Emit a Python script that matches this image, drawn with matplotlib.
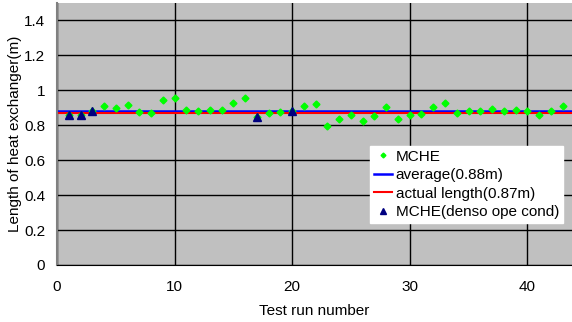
import numpy as np
import matplotlib.pyplot as plt

plt.rcParams['font.family'] = ['Liberation Sans', 'DejaVu Sans']

# MCHE measured lengths per test run
run = np.arange(1, 44)
mche = [0.86, 0.86, 0.88, 0.91, 0.90, 0.915, 0.875, 0.873, 0.945, 0.955,
        0.888, 0.883, 0.89, 0.888, 0.926, 0.955, 0.846, 0.869, 0.877, 0.879,
        0.911, 0.923, 0.793, 0.835, 0.858, 0.827, 0.854, 0.907, 0.835, 0.858,
        0.862, 0.902, 0.928, 0.872, 0.882, 0.879, 0.892, 0.879, 0.886, 0.882,
        0.861, 0.879, 0.91]

# MCHE under denso operating condition
denso_run = [1, 2, 3, 17, 20]
denso_val = [0.86, 0.86, 0.884, 0.846, 0.879]

average = 0.88
actual = 0.87

fig = plt.figure(figsize=(5.72, 3.22), dpi=100)
ax = fig.add_axes([57 / 572, 57 / 322, 515 / 572, 262 / 322])
ax.set_facecolor('#c0c0c0')

ax.plot(run, mche, linestyle='none', marker='D', markersize=3.5,
        color='#00ff00', label='MCHE', zorder=3)
ax.axhline(average, color='#0000ff', lw=1.8, label='average(0.88m)', zorder=2)
ax.axhline(actual, color='#ff0000', lw=1.5, label='actual length(0.87m)', zorder=2)
ax.plot(denso_run, denso_val, linestyle='none', marker='^', markersize=5.5,
        color='#000080', label='MCHE(denso ope cond)', zorder=4)

ax.set_xlim(0, 43.8)
ax.set_ylim(0, 1.5)
ax.set_xticks([0, 10, 20, 30, 40])
ax.set_yticks([0, 0.2, 0.4, 0.6, 0.8, 1, 1.2, 1.4])
ax.set_yticklabels(['0', '0.2', '0.4', '0.6', '0.8', '1', '1.2', '1.4'])
ax.grid(True, color='black', lw=1)
ax.set_axisbelow(True)
ax.tick_params(labelsize=11, length=0)
ax.tick_params(axis='x', pad=11)
ax.tick_params(axis='y', pad=8.5)

for s in ['top', 'right']:
    ax.spines[s].set_visible(False)
ax.spines['left'].set_color('#808080')
ax.spines['left'].set_linewidth(1.5)
ax.spines['bottom'].set_color('black')

ax.set_xlabel('Test run number', fontsize=11, labelpad=7)
ax.set_ylabel('Length of heat exchanger(m)', fontsize=11)
ax.yaxis.set_label_coords(-0.068, 0.5)

leg = ax.legend(loc='lower right', bbox_to_anchor=(0.9825, 0.16), fontsize=11,
                frameon=True, fancybox=False, framealpha=1, edgecolor='white',
                handlelength=1.2, handletextpad=0.25, borderpad=0.25,
                labelspacing=0.3, borderaxespad=0, markerscale=0.7)
leg.get_frame().set_facecolor('white')

fig.savefig('out.png', dpi=100)
